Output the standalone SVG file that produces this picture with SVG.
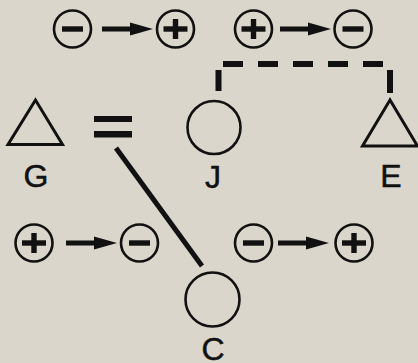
<svg xmlns="http://www.w3.org/2000/svg" width="418" height="363" viewBox="0 0 418 363">
  <style>
    .ring { fill: none; stroke: #111; stroke-width: 2.6; }
    .bar { fill: #111; }
    .shape { fill: none; stroke: #111; stroke-width: 3; stroke-linejoin: miter; }
    .label { font-family: "Liberation Sans", Arial, sans-serif; font-size: 32px; fill: #111; stroke: #111; stroke-width: 0.5; text-anchor: middle; }
    .solid { stroke: #111; stroke-width: 5; fill: none; }
    .dash { stroke: #111; stroke-width: 6; fill: none; }
  </style>
  <defs>
    <g id="minus">
      <circle class="ring" r="18.5"/>
      <rect class="bar" x="-10.5" y="-2.7" width="21" height="5.4"/>
    </g>
    <g id="plus">
      <circle class="ring" r="18.5"/>
      <rect class="bar" x="-12" y="-2.7" width="24" height="5.4"/>
      <rect class="bar" x="-2.7" y="-10" width="5.4" height="20"/>
    </g>
    <!-- arrow pointing right, origin at shaft start -->
    <g id="arrow">
      <rect class="bar" x="0" y="-2.5" width="30" height="5"/>
      <polygon class="bar" points="28,-6.5 51,0 28,6.5"/>
    </g>
  </defs>

  <rect width="418" height="363" fill="#dbd6cc"/>

  <!-- charge transitions -->
  <g id="charges">
    <use href="#minus" x="72.5" y="29"/>
    <use href="#arrow" x="102" y="29"/>
    <use href="#plus" x="175.5" y="29"/>

    <use href="#plus" x="253.5" y="29"/>
    <use href="#arrow" x="280" y="29"/>
    <use href="#minus" x="353" y="29"/>

    <use href="#plus" x="34" y="243"/>
    <use href="#arrow" x="66" y="243"/>
    <use href="#minus" x="139.5" y="243"/>

    <use href="#minus" x="253.5" y="243"/>
    <use href="#arrow" x="278" y="243"/>
    <use href="#plus" x="354" y="243"/>
  </g>

  <!-- connectors -->
  <g id="connectors">
    <path class="dash" d="M223,64 H384" stroke-dasharray="20 15"/>
    <path class="dash" d="M218.5,70 V91"/>
    <path class="dash" d="M390,70 V93"/>
    <line class="solid" x1="116" y1="148" x2="202" y2="266"/>
  </g>

  <g id="equals">
    <rect class="bar" x="94" y="116" width="38" height="6"/>
    <rect class="bar" x="94" y="131" width="38" height="6.5"/>
  </g>

  <g id="node-G">
    <polygon class="shape" points="35.5,100 8,144.5 62.5,144.5"/>
    <text class="label" x="36" y="187">G</text>
  </g>
  <g id="node-J">
    <circle class="ring" cx="214" cy="127.5" r="26.5" stroke-width="3"/>
    <text class="label" x="213" y="188">J</text>
  </g>
  <g id="node-E">
    <polygon class="shape" points="390,100 362.5,146 417.5,146"/>
    <text class="label" x="391" y="187">E</text>
  </g>
  <g id="node-C">
    <circle class="ring" cx="212.5" cy="299.5" r="27" stroke-width="3"/>
    <text class="label" x="213" y="360">C</text>
  </g>
</svg>
